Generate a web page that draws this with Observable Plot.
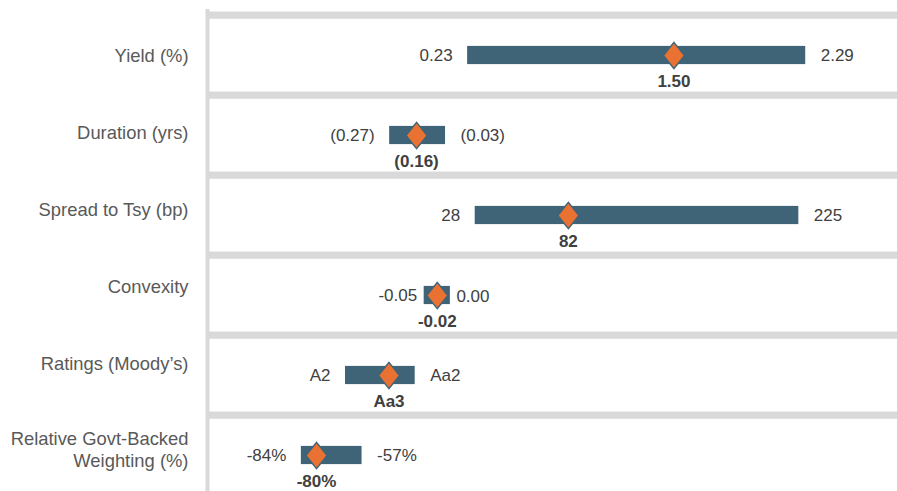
<!DOCTYPE html>
<html>
<head>
<meta charset="utf-8">
<script src="https://cdn.jsdelivr.net/npm/d3@7"></script>
<script src="https://cdn.jsdelivr.net/npm/@observablehq/plot@0.6"></script>
<style>
  html, body { margin: 0; padding: 0; background: #fff; }
  #chart { position: relative; width: 897px; height: 491px; overflow: hidden; }
  #chart svg { position: absolute; top: 0; left: 0; }
</style>
</head>
<body>
<div id="chart"></div>
<script>
// Row categories
const categories = ["Yield (%)", "Duration (yrs)", "Spread to Tsy (bp)", "Convexity", "Ratings (Moody’s)", "Relative Govt-Backed\nWeighting (%)"];
// Range labels (low end, high end, current value)
const lowLabels  = ["0.23", "(0.27)", "28", "-0.05", "A2", "-84%"];
const highLabels = ["2.29", "(0.03)", "225", "0.00", "Aa2", "-57%"];
const midLabels  = ["1.50", "(0.16)", "82", "-0.02", "Aa3", "-80%"];
// Positions on the chart's hidden 0–100 horizontal axis
const rangeStart = [37.7, 26.4, 38.8, 31.4, 20.0, 13.6];
const rangeEnd   = [86.7, 34.5, 85.7, 35.2, 30.1, 22.4];
const midPos     = [67.6, 30.3, 52.3, 33.3, 26.3, 15.8];

const rows = categories.map((cat, i) => ({
  cat, start: rangeStart[i], end: rangeEnd[i], mid: midPos[i],
  low: lowLabels[i], high: highLabels[i], midLabel: midLabels[i],
  narrow: rangeEnd[i] - rangeStart[i] < 5
}));

const font = "'Liberation Sans', Arial, sans-serif";
const barColor = "#3f6477";
const orange = "#e97132";
const grid = "#d9d9d9";

// Tall diamond symbol
const tallDiamond = {
  draw(ctx, size) {
    const r = Math.sqrt(size / Math.PI);
    const h = r * 1.24;
    ctx.moveTo(0, -h); ctx.lineTo(r, 0); ctx.lineTo(0, h); ctx.lineTo(-r, 0); ctx.closePath();
  }
};

// Category label axis
const labelPlot = Plot.plot({
  width: 200, height: 491,
  marginLeft: 190, marginRight: 0, marginTop: 14.35, marginBottom: 9.25,
  style: {fontFamily: font, background: "transparent"},
  y: {type: "band", domain: categories, padding: 0, axis: null},
  marks: [
    Plot.axisY(categories.filter(c => !c.includes("\n")), {anchor: "left", tickSize: 0, tickPadding: 2, fontSize: 18.4, fill: "#595959", label: null}),
    Plot.axisY(categories.filter(c => c.includes("\n")), {anchor: "left", tickSize: 0, tickPadding: 2, fontSize: 18.4, fill: "#595959", lineHeight: 1.2, dy: 8, label: null})
  ]
});

const mainPlot = Plot.plot({
  width: 897, height: 491,
  marginLeft: 207, marginRight: 0, marginTop: 9, marginBottom: 0,
  style: {fontFamily: font, background: "transparent"},
  x: {domain: [0, 100], axis: null},
  y: {type: "band", domain: categories, range: [12.2, 497], padding: 0, axis: null},
  marks: [
    Plot.ruleY(categories, {y: d => d, dy: -40.4, stroke: grid, strokeWidth: 7.3}),
    Plot.ruleX([0], {stroke: grid, strokeWidth: 4}),
    Plot.barX(rows, {y: "cat", x1: "start", x2: "end", fill: barColor, insetTop: 30.9, insetBottom: 30.9}),
    Plot.text(rows.filter(d => !d.narrow), {y: "cat", x: "start", text: "low", textAnchor: "end", dx: -15, fontSize: 17, fill: "#404040"}),
    Plot.text(rows.filter(d => !d.narrow), {y: "cat", x: "end", text: "high", textAnchor: "start", dx: 15, fontSize: 17, fill: "#404040"}),
    Plot.text(rows.filter(d => d.narrow), {y: "cat", x: "start", text: "low", textAnchor: "end", dx: -7, fontSize: 17, fill: "#404040"}),
    Plot.text(rows.filter(d => d.narrow), {y: "cat", x: "end", text: "high", textAnchor: "start", dx: 6, dy: 1, fontSize: 17, fill: "#404040"}),
    Plot.dot(rows, {y: "cat", x: "mid", symbol: tallDiamond, r: 10.6, fill: orange, stroke: barColor, strokeWidth: 1.5}),
    Plot.text(rows, {y: "cat", x: "mid", text: "midLabel", dy: 25.8, fontSize: 17, fontWeight: "bold", fill: "#404040"})
  ]
});

document.getElementById("chart").append(mainPlot, labelPlot);
</script>
</body>
</html>
